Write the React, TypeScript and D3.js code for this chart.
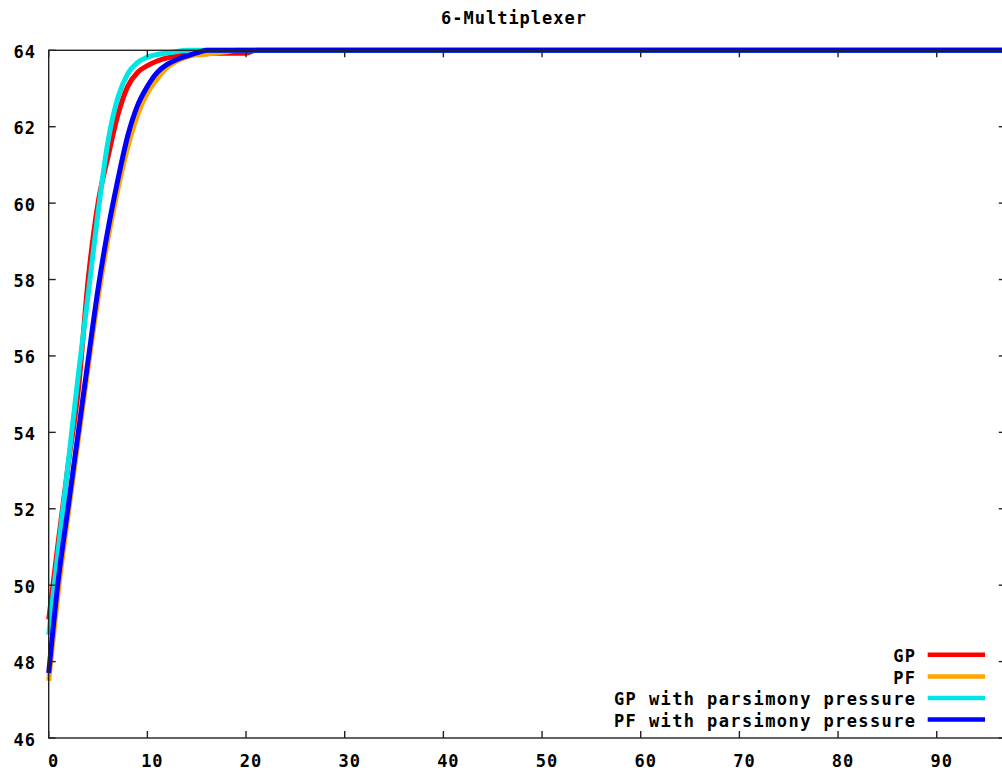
import React from "react";
import * as d3 from "d3";

const title = "6-Multiplexer";
const generations = [0, 1, 2, 3, 4, 5, 6, 7, 8, 9, 10, 11, 12, 13, 14, 15, 16, 17, 18, 19, 20, 21, 97];
const gp = [49.1, 51.2, 53.2, 55.1, 58.0, 60.0, 61.2, 62.3, 63.05, 63.42, 63.6, 63.72, 63.8, 63.85, 63.88, 63.9, 63.91, 63.92, 63.92, 63.92, 63.92, 64, 64];
const pf = [47.5, 49.9, 51.9, 53.8, 55.7, 57.5, 59.05, 60.35, 61.45, 62.3, 62.88, 63.25, 63.55, 63.72, 63.83, 63.88, 63.9, 63.93, 63.96, 64, 64, 64, 64];
const gpParsimony = [48.7, 51.0, 53.25, 55.5, 57.6, 59.75, 61.6, 62.75, 63.38, 63.68, 63.82, 63.89, 63.93, 63.97, 64, 64, 64, 64, 64, 64, 64, 64, 64];
const pfParsimony = [47.7, 50.2, 52.1, 54.0, 55.9, 57.75, 59.3, 60.6, 61.75, 62.55, 63.05, 63.42, 63.63, 63.76, 63.85, 63.93, 64, 64, 64, 64, 64, 64, 64];

const seriesNames = ["GP", "PF", "GP with parsimony pressure", "PF with parsimony pressure"];
const seriesColors = ["#ff0000", "#ffa500", "#00e6e6", "#0000ff"];
const seriesValues = [gp, pf, gpParsimony, pfParsimony];

const xTicks = [0, 10, 20, 30, 40, 50, 60, 70, 80, 90];
const yTicks = [46, 48, 50, 52, 54, 56, 58, 60, 62, 64];

const W = 1002;
const H = 774;
const left = 48.7;
const right = 1005.8;
const top = 50.3;
const bottom = 738;

const font = {
  fontFamily: "'DejaVu Sans Mono', monospace",
  fontWeight: "bold" as const,
  fontSize: 17,
  letterSpacing: 1,
  fill: "#000",
};

export default function App() {
  const x = d3.scaleLinear().domain([0, 97]).range([left, right]);
  const y = d3.scaleLinear().domain([46, 64]).range([bottom, top]);
  const line = d3
    .line<[number, number]>()
    .x((d) => x(d[0]))
    .y((d) => y(d[1]))
    .curve(d3.curveMonotoneX);

  const tickLen = 7;
  const axisColor = "#222";
  const legendRows = [654.7, 676.4, 698.1, 719.6];

  return (
    <svg
      width={W}
      height={H}
      style={{ position: "absolute", left: 0, top: 0, background: "#fff" }}
    >
      <rect x={0} y={0} width={W} height={H} fill="#fff" />
      <text x={514} y={24} textAnchor="middle" {...font}>
        {title}
      </text>

      {seriesValues.map((vals, i) => (
        <path
          key={seriesNames[i]}
          d={line(generations.map((g, j) => [g, vals[j]] as [number, number])) || ""}
          fill="none"
          stroke={seriesColors[i]}
          strokeWidth={5}
          strokeLinejoin="round"
        />
      ))}

      {/* border */}
      <rect
        x={left}
        y={top}
        width={right - left}
        height={bottom - top}
        fill="none"
        stroke={axisColor}
        strokeWidth={1.4}
      />

      {yTicks.map((t) => (
        <g key={"y" + t}>
          <line x1={left} x2={left + tickLen} y1={y(t)} y2={y(t)} stroke={axisColor} strokeWidth={1.4} />
          <line x1={right} x2={right - tickLen} y1={y(t)} y2={y(t)} stroke={axisColor} strokeWidth={1.4} />
          <text x={36} y={y(t) + 7.5} textAnchor="end" {...font}>
            {t}
          </text>
        </g>
      ))}

      {xTicks.map((t) => (
        <g key={"x" + t}>
          <line x1={x(t)} x2={x(t)} y1={bottom} y2={bottom - tickLen} stroke={axisColor} strokeWidth={1.4} />
          <line x1={x(t)} x2={x(t)} y1={top} y2={top + tickLen} stroke={axisColor} strokeWidth={1.4} />
          <text x={x(t) + 5} y={767} textAnchor="middle" {...font}>
            {t}
          </text>
        </g>
      ))}

      {seriesNames.map((name, i) => (
        <g key={"leg" + name}>
          <text x={916.5} y={legendRows[i] + 7.3} textAnchor="end" {...font} letterSpacing={1.4}>
            {name}
          </text>
          <line
            x1={927.7}
            x2={985}
            y1={legendRows[i]}
            y2={legendRows[i]}
            stroke={seriesColors[i]}
            strokeWidth={4.5}
          />
        </g>
      ))}
    </svg>
  );
}
